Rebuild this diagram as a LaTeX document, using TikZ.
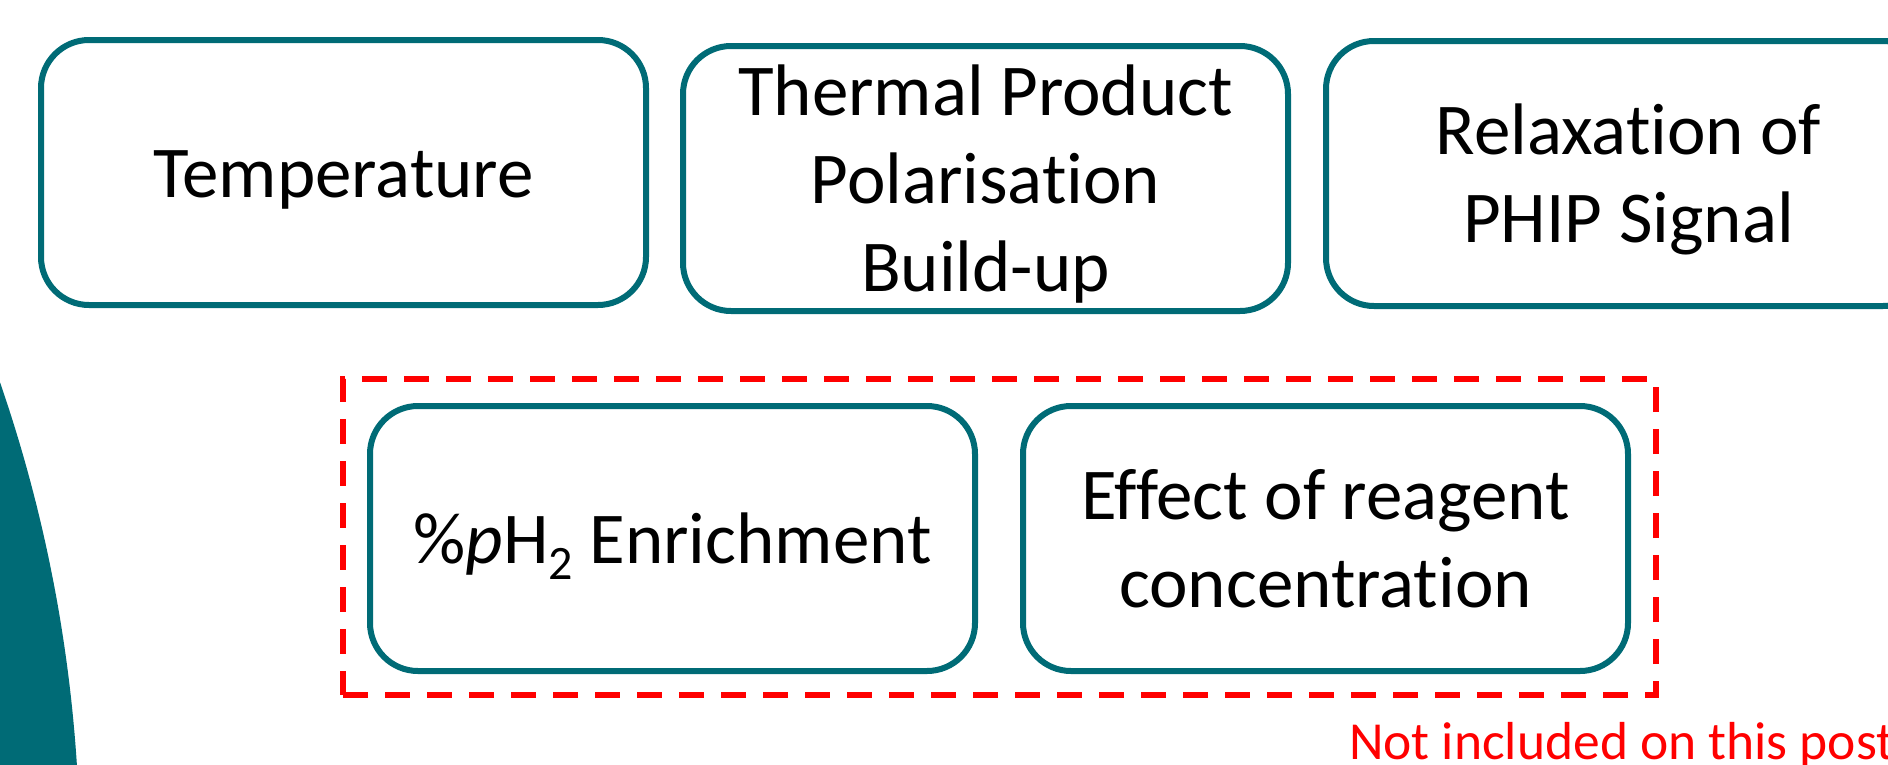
\documentclass[tikz,border=0pt]{standalone}
\usepackage{fontspec}
\setmainfont{Carlito}[RawFeature={-liga;-clig;-calt;-dlig}]
\definecolor{tealc}{RGB}{0,107,118}
\definecolor{redc}{RGB}{255,0,0}
\newcommand{\boxtext}[1]{\raisebox{-7pt}[\height][\depth]{\begin{tabular}{@{}c@{}}#1\end{tabular}}}
\newcommand{\tiNoLig}{t\kern0pt i}
\begin{document}
\begin{tikzpicture}[x=1pt,y=-1pt,
  itembox/.style={draw=tealc, line width=6pt, rounded corners=48pt, fill=white,
    minimum width=605pt, minimum height=265pt, inner sep=0pt,
    font=\fontsize{73}{88}\selectfont},
  groupbox/.style={draw=redc, line width=6pt, dash pattern=on 25pt off 17pt,
    minimum width=1313pt, minimum height=316pt, inner sep=0pt},
  notetext/.style={text=redc, inner sep=0pt, font=\fontsize{53.5}{60}\selectfont}]
\useasboundingbox (0,0) rectangle (1888,764);
\clip (0,0) rectangle (1888,764);
\fill[tealc] (-1385,861) circle [radius=1465pt];
\node[itembox] (temp) at (343.5,172.5) {\boxtext{Temperature}};
\node[itembox] (thermal) at (985.5,178.5) {\boxtext{Thermal Product\\Polarisa\tiNoLig on\\Build-up}};
\node[itembox] (relax) at (1628.5,173.5) {\boxtext{Relaxa\tiNoLig on of\\PHIP Signal}};
\node[groupbox] (grp) at (999.5,537) {};
\node[itembox] (enrich) at (672.5,538.5) {\boxtext{\%\textit{p}H\raisebox{-0.22em}{\fontsize{48}{48}\selectfont 2} Enrichment}};
\node[itembox] (reagent) at (1325.5,538.5) {\boxtext{Effect of reagent\\concentra\tiNoLig on}};
\node[notetext, anchor=base west] (note) at (1349,759) {Not included on this post};
\end{tikzpicture}
\end{document}
